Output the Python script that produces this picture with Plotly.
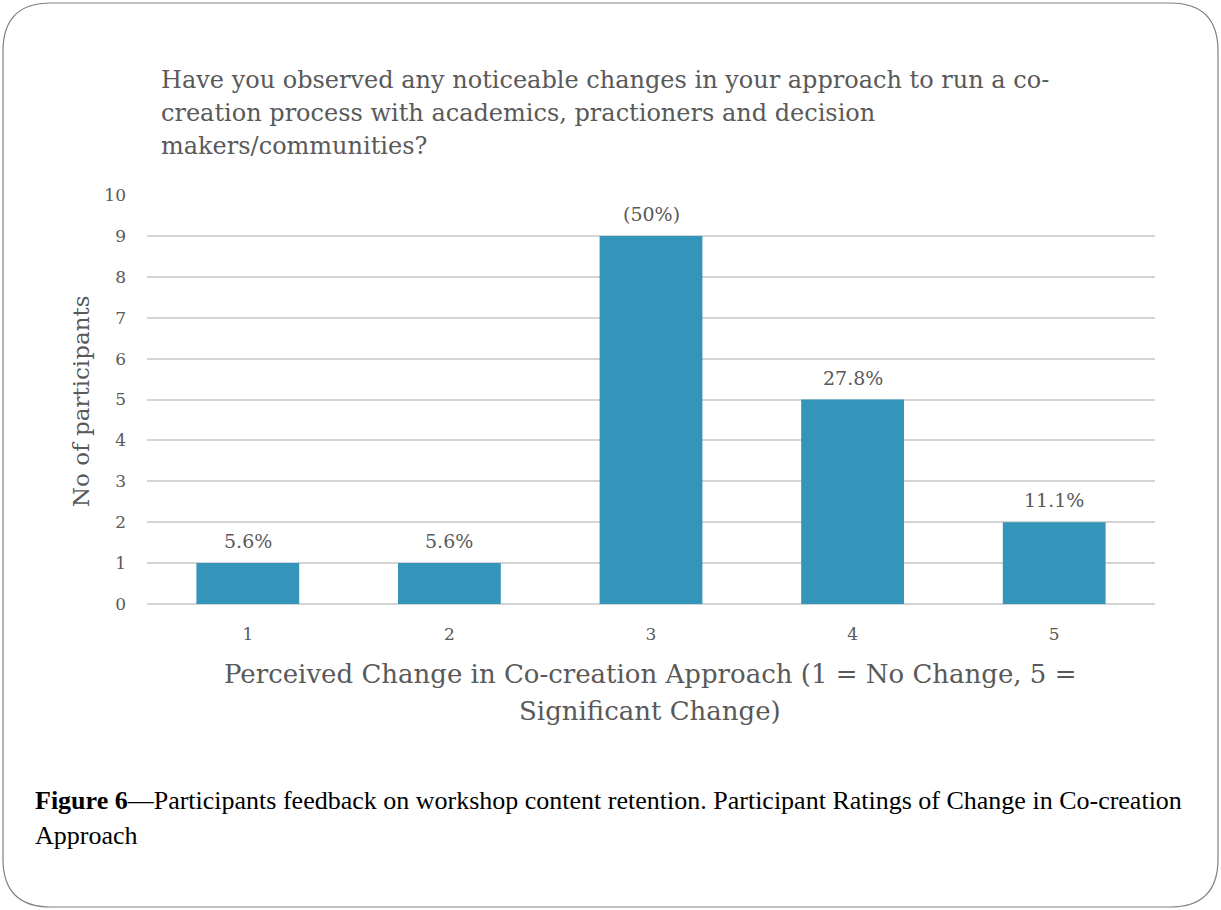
import plotly.graph_objects as go

# Survey results: perceived change in co-creation approach
ratings = ["1", "2", "3", "4", "5"]
participants = [1, 1, 9, 5, 2]
share_labels = ["5.6%", "5.6%", "(50%)", "27.8%", "11.1%"]

y_ticks = list(range(0, 11))

title_lines = [
    "Have you observed any noticeable changes in your approach to run a co-",
    "creation process with academics, practioners and decision",
    "makers/communities?",
]
x_title_lines = [
    "Perceived Change in Co-creation Approach (1 = No Change, 5 =",
    "Significant Change)",
]
y_title = "No of participants"
caption_bold = "Figure 6"
caption_lines = [
    "\u2014Participants feedback on workshop content retention. Participant Ratings of Change in Co-creation",
    "Approach",
]

W, H = 1221, 910
M_L, M_R, M_T, M_B = 147, 66, 195, 306
PW, PH = W - M_L - M_R, H - M_T - M_B

def px_x(px):
    return (px - M_L) / PW

def px_y(py):
    return (H - M_B - py) / PH

SERIF = "DejaVu Serif"
TIMES = "Liberation Serif"
GRAY = "#595959"
BAR = "#3494BA"

fig = go.Figure(
    go.Bar(
        x=ratings,
        y=participants,
        marker=dict(color=BAR, line=dict(width=0)),
        hoverinfo="skip",
    )
)

annotations = []
# value labels above bars (x given as category index)
for idx, (val, lab) in enumerate(zip(participants, share_labels)):
    annotations.append(dict(
        x=idx, y=val, xref="x", yref="y", text=lab, showarrow=False,
        yanchor="bottom", yshift=9,
        font=dict(family=SERIF, size=19, color=GRAY),
    ))

# chart title
for i, line in enumerate(title_lines):
    annotations.append(dict(
        x=px_x(159), y=px_y(80 + i * 33), xref="paper", yref="paper",
        text=line, showarrow=False, xanchor="left", yanchor="middle",
        font=dict(family=SERIF, size=24, color=GRAY),
    ))

# x axis title
for i, line in enumerate(x_title_lines):
    annotations.append(dict(
        x=px_x(650), y=px_y(674 + i * 37), xref="paper", yref="paper",
        text=line, showarrow=False, xanchor="center", yanchor="middle",
        font=dict(family=SERIF, size=26, color=GRAY),
    ))

# y axis title
annotations.append(dict(
    x=px_x(81), y=px_y(401), xref="paper", yref="paper",
    text=y_title, showarrow=False, textangle=-90,
    xanchor="center", yanchor="middle",
    font=dict(family=SERIF, size=23, color=GRAY),
))

# figure caption
annotations.append(dict(
    x=px_x(33), y=px_y(800), xref="paper", yref="paper",
    text="<b>" + caption_bold + "</b>" + caption_lines[0],
    showarrow=False, xanchor="left", yanchor="middle",
    font=dict(family=TIMES, size=26, color="#000000"),
))
annotations.append(dict(
    x=px_x(33), y=px_y(835), xref="paper", yref="paper",
    text=caption_lines[1],
    showarrow=False, xanchor="left", yanchor="middle",
    font=dict(family=TIMES, size=26, color="#000000"),
))

# rounded frame around the whole figure
x0, x1, y0, y1, r = 3, 1218, 3, 907, 48
def pt(px, py):
    return f"{px_x(px):.5f},{px_y(py):.5f}"
frame = (
    f"M {pt(x0 + r, y0)} L {pt(x1 - r, y0)} Q {pt(x1, y0)} {pt(x1, y0 + r)} "
    f"L {pt(x1, y1 - r)} Q {pt(x1, y1)} {pt(x1 - r, y1)} "
    f"L {pt(x0 + r, y1)} Q {pt(x0, y1)} {pt(x0, y1 - r)} "
    f"L {pt(x0, y0 + r)} Q {pt(x0, y0)} {pt(x0 + r, y0)} Z"
)

fig.update_layout(
    width=W, height=H,
    margin=dict(l=M_L, r=M_R, t=M_T, b=M_B, autoexpand=False),
    paper_bgcolor="white", plot_bgcolor="white",
    bargap=0.49,
    showlegend=False,
    annotations=annotations,
    shapes=[dict(type="path", path=frame, xref="paper", yref="paper",
                 line=dict(color="#808080", width=1.2), layer="above")],
    xaxis=dict(
        type="category", range=[-0.5, len(ratings) - 0.5],
        showgrid=False, showline=False, zeroline=False,
        ticks="", ticklabelstandoff=18,
        tickfont=dict(family=SERIF, size=17, color=GRAY),
    ),
    yaxis=dict(
        range=[0, 10], tickvals=y_ticks, showgrid=True,
        gridcolor="#d4d4d4", gridwidth=1.5,
        zeroline=True, zerolinecolor="#d4d4d4", zerolinewidth=1.5,
        showline=False, ticks="", ticklabelstandoff=20,
        tickfont=dict(family=SERIF, size=17, color=GRAY),
    ),
)

fig.write_html("out.html")
